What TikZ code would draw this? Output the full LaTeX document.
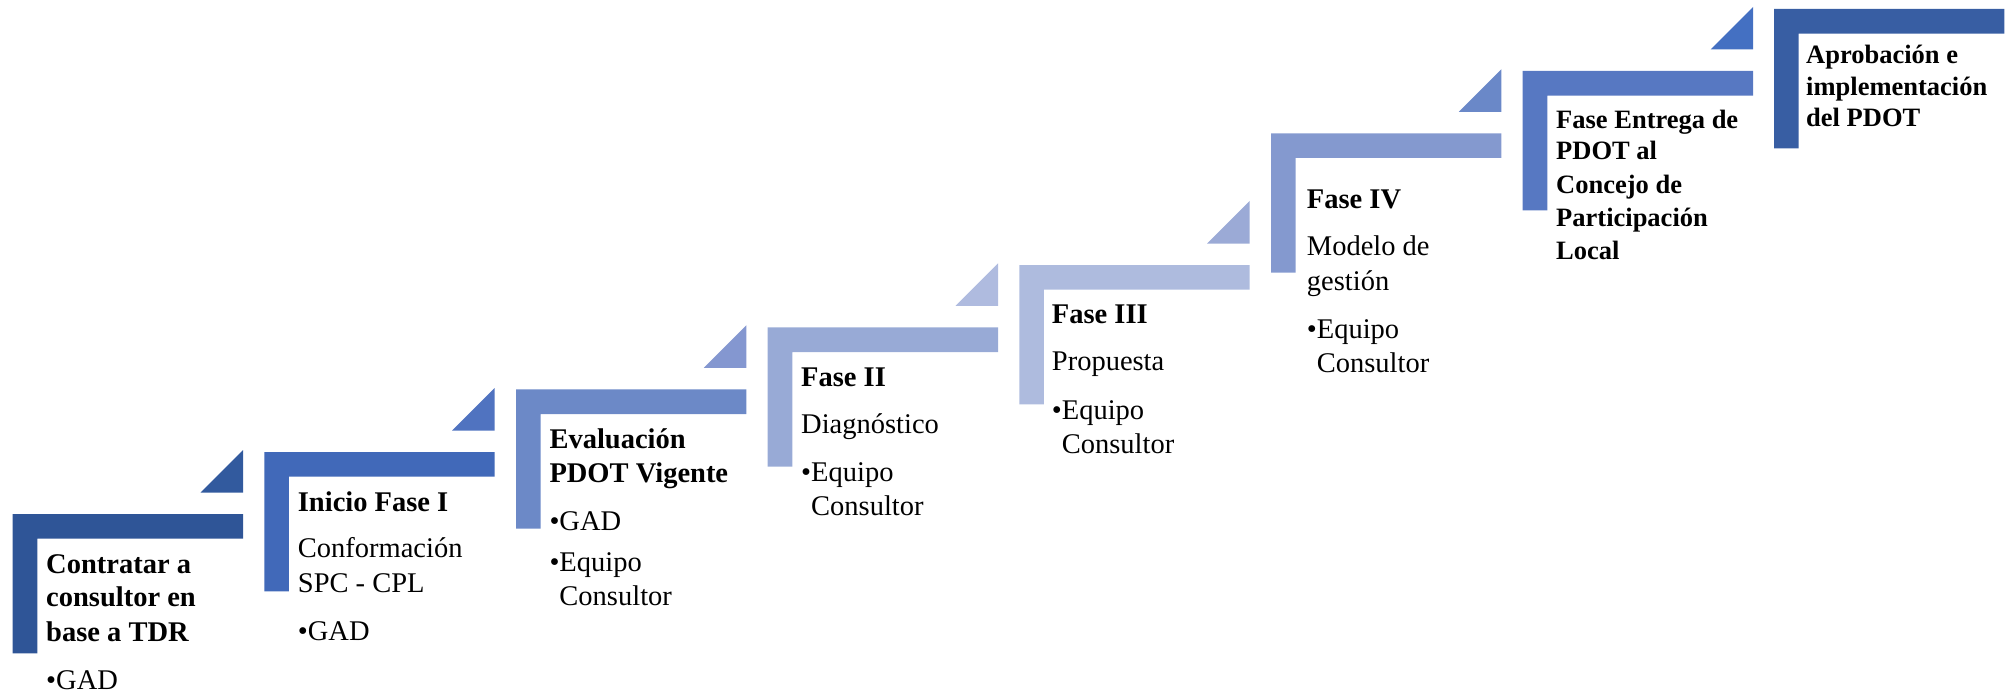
\documentclass[tikz,border=0pt]{standalone}
\usepackage{fontspec}
\setmainfont{Liberation Serif}
\definecolor{sa}{HTML}{2F5597}
\definecolor{sb}{HTML}{4169B9}
\definecolor{sc}{HTML}{6C89C7}
\definecolor{sd}{HTML}{98AAD6}
\definecolor{se}{HTML}{AEBBDE}
\definecolor{sf}{HTML}{8499CF}
\definecolor{sg}{HTML}{5778C2}
\definecolor{sh}{HTML}{385EA3}
\definecolor{ta}{HTML}{325A9E}
\definecolor{tb}{HTML}{5073C0}
\definecolor{tc}{HTML}{8497D0}
\definecolor{td}{HTML}{AFBBDF}
\definecolor{te}{HTML}{9BAAD6}
\definecolor{tf}{HTML}{6A88C8}
\definecolor{tg}{HTML}{4470C2}
\newcommand\stepshape[3]{\fill[#3] (#1,#2) -- ++(230.3,0) -- ++(0,24.7) -- ++(-205.7,0) -- ++(0,114.6) -- ++(-24.6,0) -- cycle;}
\newcommand\steptri[3]{\fill[#3] ({#1+230.3},{#2-21.5}) -- ++(-42.5,0) -- ++(42.5,-42.5) -- cycle;}
\begin{document}
\begin{tikzpicture}[x=1pt,y=-1pt,
  tx/.style={anchor=base west,inner sep=0pt,font=\fontsize{28.5}{34.5}\selectfont},
  hd/.style={tx,font=\fontsize{28.5}{34.5}\selectfont\bfseries},
  hds/.style={tx,font=\fontsize{26.5}{32.5}\selectfont\bfseries}]
\useasboundingbox (0,0) rectangle (2015,695);
% shapes
\stepshape{12.7}{514}{sa}   \steptri{12.7}{514}{ta}
\stepshape{264.3}{452}{sb}  \steptri{264.3}{452}{tb}
\stepshape{516}{389.3}{sc}  \steptri{516}{389.3}{tc}
\stepshape{767.7}{327.3}{sd}\steptri{767.7}{327.3}{td}
\stepshape{1019.3}{265}{se} \steptri{1019.3}{265}{te}
\stepshape{1271}{133.3}{sf} \steptri{1271}{133.3}{tf}
\stepshape{1522.7}{71}{sg}  \steptri{1522.7}{71}{tg}
\stepshape{1774}{9}{sh}
% step 1
\node[hd] (t1a) at (46,573) {Contratar a};
\node[hd] (t1b) at (46,606.7) {consultor en};
\node[hd] (t1c) at (46,641.7) {base a TDR};
\node[tx] (t1d) at (46,689.3) {•GAD};
% step 2
\node[hd] (t2a) at (297.7,511) {Inicio Fase I};
\node[tx] (t2b) at (297.7,557.7) {Conformación};
\node[tx] (t2c) at (297.7,592.3) {SPC - CPL};
\node[tx] (t2d) at (297.7,640.7) {•GAD};
% step 3
\node[hd] (t3a) at (549.3,448.3) {Evaluación};
\node[hd] (t3b) at (549.3,482.3) {PDOT Vigente};
\node[tx] (t3c) at (549.3,530) {•GAD};
\node[tx] (t3d) at (549.3,571.7) {•Equipo};
\node[tx] (t3e) at (549.3,605) {\phantom{•}Consultor};
% step 4
\node[hd] (t4a) at (801,386) {Fase II};
\node[tx] (t4b) at (801,433.3) {Diagnóstico};
\node[tx] (t4c) at (801,481.7) {•Equipo};
\node[tx] (t4d) at (801,515.7) {\phantom{•}Consultor};
% step 5
\node[hd] (t5a) at (1051.7,323.3) {Fase III};
\node[tx] (t5b) at (1051.7,370.7) {Propuesta};
\node[tx] (t5c) at (1051.7,419.3) {•Equipo};
\node[tx] (t5d) at (1051.7,453.5) {\phantom{•}Consultor};
% step 6
\node[hd] (t6a) at (1306.7,208.3) {Fase IV};
\node[tx] (t6b) at (1306.7,255.7) {Modelo de};
\node[tx] (t6c) at (1306.7,290) {gestión};
\node[tx] (t6d) at (1306.7,338.3) {•Equipo};
\node[tx] (t6e) at (1306.7,372.7) {\phantom{•}Consultor};
% step 7
\node[hds] (t7a) at (1556,128.3) {Fase Entrega de};
\node[hds] (t7b) at (1556,160) {PDOT al};
\node[hds] (t7c) at (1556,194) {Concejo de};
\node[hds] (t7d) at (1556,226) {Participación};
\node[hds] (t7e) at (1556,259) {Local};
% step 8
\node[hds] (t8a) at (1806,63.3) {Aprobación e};
\node[hds] (t8b) at (1806,96) {implementación};
\node[hds] (t8c) at (1806,126.7) {del PDOT};
\end{tikzpicture}
\end{document}
